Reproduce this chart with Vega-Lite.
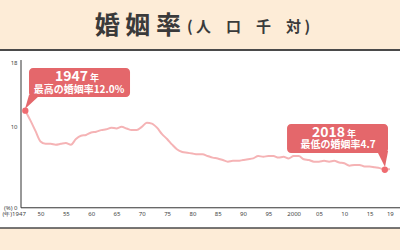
{
  "$schema": "https://vega.github.io/schema/vega-lite/v6.json",
  "autosize": "none",
  "width": 400,
  "height": 178,
  "padding": {"top": 50, "bottom": 22, "left": 0, "right": 0},
  "background": "#fdecd7",
  "config": {
    "view": {"fill": "white", "stroke": null},
    "font": "Noto Sans CJK JP",
    "axis": {"grid": false, "domain": false, "ticks": false, "title": null, "labelFont": "Noto Sans", "labelFontSize": 6, "labelColor": "#444", "labelOverlap": false}
  },
  "data": {"values": [{}]},
  "datasets": {
    "rate": [
      {"year": 1947, "rate": 12.0}, {"year": 1948, "rate": 10.8}, {"year": 1949, "rate": 9.5},
      {"year": 1950, "rate": 8.2}, {"year": 1951, "rate": 7.9}, {"year": 1952, "rate": 7.9},
      {"year": 1953, "rate": 7.8}, {"year": 1954, "rate": 7.9}, {"year": 1955, "rate": 8.0},
      {"year": 1956, "rate": 7.8}, {"year": 1957, "rate": 8.5}, {"year": 1958, "rate": 8.9},
      {"year": 1959, "rate": 9.0}, {"year": 1960, "rate": 9.3}, {"year": 1961, "rate": 9.4},
      {"year": 1962, "rate": 9.6}, {"year": 1963, "rate": 9.7}, {"year": 1964, "rate": 9.9},
      {"year": 1965, "rate": 9.8}, {"year": 1966, "rate": 10.0}, {"year": 1967, "rate": 9.8},
      {"year": 1968, "rate": 9.6}, {"year": 1969, "rate": 9.6}, {"year": 1970, "rate": 10.0},
      {"year": 1971, "rate": 10.5}, {"year": 1972, "rate": 10.4}, {"year": 1973, "rate": 9.9},
      {"year": 1974, "rate": 9.1}, {"year": 1975, "rate": 8.5}, {"year": 1976, "rate": 7.8},
      {"year": 1977, "rate": 7.2}, {"year": 1978, "rate": 6.9}, {"year": 1979, "rate": 6.8},
      {"year": 1980, "rate": 6.7}, {"year": 1981, "rate": 6.6}, {"year": 1982, "rate": 6.6},
      {"year": 1983, "rate": 6.4}, {"year": 1984, "rate": 6.2}, {"year": 1985, "rate": 6.1},
      {"year": 1986, "rate": 5.9}, {"year": 1987, "rate": 5.7}, {"year": 1988, "rate": 5.8},
      {"year": 1989, "rate": 5.8}, {"year": 1990, "rate": 5.9}, {"year": 1991, "rate": 6.0},
      {"year": 1992, "rate": 6.1}, {"year": 1993, "rate": 6.4}, {"year": 1994, "rate": 6.3},
      {"year": 1995, "rate": 6.4}, {"year": 1996, "rate": 6.4}, {"year": 1997, "rate": 6.2},
      {"year": 1998, "rate": 6.3}, {"year": 1999, "rate": 6.1}, {"year": 2000, "rate": 6.4},
      {"year": 2001, "rate": 6.4}, {"year": 2002, "rate": 6.0}, {"year": 2003, "rate": 5.9},
      {"year": 2004, "rate": 5.7}, {"year": 2005, "rate": 5.7}, {"year": 2006, "rate": 5.8},
      {"year": 2007, "rate": 5.7}, {"year": 2008, "rate": 5.8}, {"year": 2009, "rate": 5.6},
      {"year": 2010, "rate": 5.5}, {"year": 2011, "rate": 5.2}, {"year": 2012, "rate": 5.3},
      {"year": 2013, "rate": 5.3}, {"year": 2014, "rate": 5.1}, {"year": 2015, "rate": 5.1},
      {"year": 2016, "rate": 5.0}, {"year": 2017, "rate": 4.9}, {"year": 2018, "rate": 4.7},
      {"year": 2019, "rate": 4.8}
    ],
    "extremes": [
      {"year": 1947, "rate": 12.0},
      {"year": 2018, "rate": 4.7}
    ]
  },
  "layer": [
    {
      "mark": {"type": "rule", "color": "#333", "strokeWidth": 1},
      "encoding": {
        "x": {"datum": 1946.15, "type": "quantitative", "scale": {"domain": [1942, 2021], "nice": false, "zero": false}, "axis": {"orient": "bottom", "offset": -20.2, "tickCount": 30, "values": [1947, 1950, 1955, 1960, 1965, 1970, 1975, 1980, 1985, 1990, 1995, 2000, 2005, 2010, 2015, 2019], "labelExpr": "datum.value == 1947 ? '(年)1947' : (datum.value == 2000 ? '2000' : slice(toString(datum.value), 2))", "labelAlign": {"condition": {"test": "datum.value == 1947", "value": "right"}, "value": "center"}, "labelPadding": 3, "labelDx": -1.5, "labelFlush": false, "labelOverlap": false, "labelBound": false}},
        "y": {"datum": 0, "type": "quantitative", "scale": {"domain": [-2.5, 19.5], "nice": false, "zero": false}, "axis": {"orient": "left", "offset": -21, "tickCount": 20, "values": [0, 10, 18], "labelExpr": "datum.value == 0 ? '(%) 0' : datum.label", "labelPadding": 4}},
        "y2": {"datum": 18.26}
      }
    },
    {
      "mark": {"type": "rule", "color": "#333", "strokeWidth": 1},
      "encoding": {"x": {"datum": 1946.15}, "x2": {"datum": 2021}, "y": {"datum": 0}}
    },
    {
      "mark": {"type": "rule", "color": "#4a4a4a", "strokeWidth": 2},
      "encoding": {"x": {"datum": 1942}, "x2": {"datum": 2021}, "y": {"datum": 19.5}}
    },
    {
      "mark": {"type": "rule", "color": "#4a4a4a", "strokeWidth": 1.5},
      "encoding": {"x": {"datum": 1942}, "x2": {"datum": 2021}, "y": {"datum": -2.5}}
    },
    {
      "mark": {"type": "text", "align": "right", "baseline": "middle", "fontSize": 25, "fontWeight": "bold", "color": "#3a3a3a"},
      "encoding": {"x": {"datum": 1977.75}, "y": {"datum": 22.5}, "text": {"value": "婚 姻 率"}}
    },
    {
      "mark": {"type": "text", "align": "left", "baseline": "middle", "fontSize": 15, "fontWeight": "bold", "color": "#3a3a3a", "dy": 1},
      "encoding": {"x": {"datum": 1978.93}, "y": {"datum": 22.5}, "text": {"value": "( 人　口　千　対 )"}}
    },
    {
      "data": {"name": "rate"},
      "mark": {"type": "line", "color": "#f5b3b5", "strokeWidth": 2, "interpolate": "monotone"},
      "encoding": {"x": {"field": "year", "type": "quantitative"}, "y": {"field": "rate", "type": "quantitative"}}
    },
    {
      "mark": {"type": "rect", "color": "#e4676b", "cornerRadius": 4},
      "encoding": {"x": {"datum": 1947.73}, "x2": {"datum": 1967.68}, "y": {"datum": 17.27}, "y2": {"datum": 13.69}}
    },
    {
      "mark": {"type": "point", "filled": true, "opacity": 1, "color": "#e4676b", "size": 256, "shape": "M-0.44,-1L0.94,-1L-0.94,0.75Z"},
      "encoding": {"x": {"datum": 1948.42}, "y": {"datum": 12.95}}
    },
    {
      "mark": {"type": "rect", "color": "#e4676b", "cornerRadius": 4},
      "encoding": {"x": {"datum": 1998.69}, "x2": {"datum": 2018.63}, "y": {"datum": 10.35}, "y2": {"datum": 6.77}}
    },
    {
      "mark": {"type": "point", "filled": true, "opacity": 1, "color": "#e4676b", "size": 256, "shape": "M-0.69,-1L0.69,-1L0.31,1Z"},
      "encoding": {"x": {"datum": 2017.55}, "y": {"datum": 6.03}}
    },
    {
      "data": {"name": "extremes"},
      "mark": {"type": "point", "filled": true, "opacity": 1, "color": "#ef6b70", "size": 40},
      "encoding": {"x": {"field": "year", "type": "quantitative"}, "y": {"field": "rate", "type": "quantitative"}}
    },
    {
      "mark": {"type": "text", "align": "right", "baseline": "alphabetic", "fontSize": 14, "fontWeight": "bold", "color": "white"},
      "encoding": {"x": {"datum": 1959.38}, "y": {"datum": 15.66}, "text": {"value": "1947"}}
    },
    {
      "mark": {"type": "text", "align": "left", "baseline": "alphabetic", "fontSize": 9, "fontWeight": "bold", "color": "white", "dx": 1},
      "encoding": {"x": {"datum": 1959.58}, "y": {"datum": 15.66}, "text": {"value": "年"}}
    },
    {
      "mark": {"type": "text", "align": "center", "baseline": "middle", "fontSize": 10, "fontWeight": "bold", "color": "white"},
      "encoding": {"x": {"datum": 1957.6}, "y": {"datum": 14.6}, "text": {"value": "最高の婚姻率12.0%"}}
    },
    {
      "mark": {"type": "text", "align": "right", "baseline": "alphabetic", "fontSize": 14, "fontWeight": "bold", "color": "white"},
      "encoding": {"x": {"datum": 2010.14}, "y": {"datum": 8.79}, "text": {"value": "2018"}}
    },
    {
      "mark": {"type": "text", "align": "left", "baseline": "alphabetic", "fontSize": 9, "fontWeight": "bold", "color": "white", "dx": 1},
      "encoding": {"x": {"datum": 2010.34}, "y": {"datum": 8.79}, "text": {"value": "年"}}
    },
    {
      "mark": {"type": "text", "align": "center", "baseline": "middle", "fontSize": 10, "fontWeight": "bold", "color": "white"},
      "encoding": {"x": {"datum": 2008.76}, "y": {"datum": 7.72}, "text": {"value": "最低の婚姻率4.7"}}
    }
  ]
}
